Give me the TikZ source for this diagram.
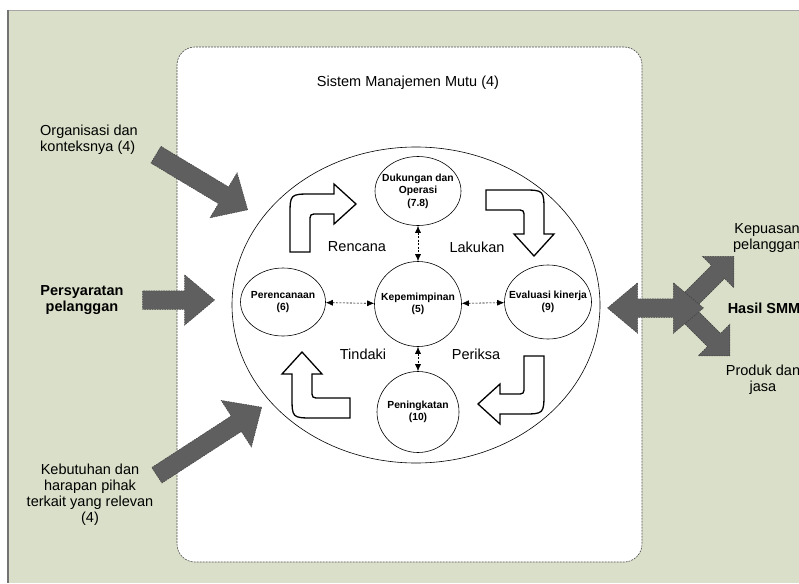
\documentclass[tikz,border=0pt]{standalone}
\usepackage{fontspec}
\setmainfont{Liberation Sans}
\usetikzlibrary{arrows.meta, positioning, shapes.geometric, shapes.arrows}

\definecolor{panelgreen}{HTML}{D9DFC8}
\definecolor{arrowgray}{HTML}{5F5F5F}

\begin{document}
\begin{tikzpicture}[x=1pt, y=-1pt,
    phase/.style={ellipse, draw, line width=0.6pt, fill=white, inner sep=0pt},
    phasetext/.style={align=center, inner sep=0pt, font=\fontsize{10.3}{12.5}\selectfont\bfseries},
    link/.style={{Latex[length=7pt,width=6pt]}-{Latex[length=7pt,width=6pt]}, dash pattern=on 2pt off 1.5pt, line width=0.6pt},
    big/.style={font=\fontsize{14.5}{16}\selectfont, align=center, inner sep=0pt},
    bigbold/.style={big, font=\fontsize{14.5}{16}\selectfont\bfseries},
    bigarrow/.style={single arrow, fill=arrowgray, draw=black!75, line width=0.5pt, dash pattern=on 1.5pt off 1pt, inner xsep=0pt, anchor=tip},
    pics/bendarrow/.style={code={
      \draw[fill=white, line width=1.3pt, line join=miter]
        (-10,48) -- (-10,12) .. controls (-10,-10) .. (12,-10) -- (34,-10) -- (34,-20) -- (56,0)
        -- (34,20) -- (34,10) -- (18,10) .. controls (10,10) .. (10,18) -- (10,48) -- cycle;
    }}
]
\clip (0,0) rectangle (799,583);
% background panel
\fill[white] (0,0) rectangle (799,583);
\fill[panelgreen] (8,10) rectangle (799,583);
\draw[black!35, line width=1.5pt] (8,10.5) -- (799,10.5);
\draw[black!55, line width=2pt] (8,10) -- (8,583);

\node[draw=black!70, fill=white, rounded corners=18pt, line width=0.6pt, dash pattern=on 2pt off 1pt,
      minimum width=465pt, minimum height=515pt] (box) at (409.5,304.5) {};
\node[big] (title) at (408,83) {Sistem Manajemen Mutu (4)};

% inputs
\node[big, align=left, anchor=west] (org) at (40,140) {Organisasi dan\\konteksnya (4)};
\node[bigbold] (req) at (82,300) {Persyaratan\\pelanggan};
\node[big] (need) at (90,495) {Kebutuhan dan\\harapan pihak\\terkait yang relevan\\(4)};
\node[bigarrow, minimum height=107pt, inner ysep=9.5pt, single arrow head extend=16.5pt,
      single arrow tip angle=86, rotate=-31] (orgarrow) at (248,210) {};
\node[bigarrow, minimum height=72pt, inner ysep=9pt, single arrow head extend=16pt,
      single arrow tip angle=80] (reqarrow) at (215,300) {};
\node[bigarrow, minimum height=125pt, inner ysep=9pt, single arrow head extend=18.5pt,
      single arrow tip angle=85, rotate=33] (needarrow) at (262,407) {};

% outputs
\node[big] (sat) at (767,238) {Kepuasan\\pelanggan};
\node[bigbold] (result) at (764,308) {Hasil SMM};
\node[big] (prod) at (763,380) {Produk dan\\jasa};
\node[bigarrow, minimum height=64pt, inner ysep=9pt, single arrow head extend=13pt,
      single arrow tip angle=90, rotate=45] (satarrow) at (734,256) {};
\node[bigarrow, minimum height=64pt, inner ysep=9pt, single arrow head extend=13pt,
      single arrow tip angle=90, rotate=-45] (prodarrow) at (730,356) {};
\node[bigarrow, double arrow, anchor=center, minimum height=96pt, inner ysep=9pt,
      double arrow head extend=16pt, double arrow tip angle=80] (resarrow) at (655.5,308) {};

% PDCA cycle
\node[ellipse, draw, line width=0.6pt, minimum width=368pt, minimum height=316pt] (cycle) at (416,305) {};
\pic at (300,204) {bendarrow};
\pic[rotate=-90] at (534,200) {bendarrow};
\pic[rotate=-180] at (534,404) {bendarrow};
\pic[rotate=-270] at (302,408) {bendarrow};

\node[phase, minimum width=87pt, minimum height=85pt] (lead) at (418,304) {};
\node[phase, minimum width=86pt, minimum height=69pt] (supp) at (418,191) {};
\node[phase, minimum width=85pt, minimum height=68pt] (plan) at (283,302) {};
\node[phase, minimum width=87pt, minimum height=74pt] (eval) at (548,302) {};
\node[phase, minimum width=82pt, minimum height=81pt] (impr) at (418,412) {};
\node[phasetext] (leadtext) at (lead) {Kepemimpinan\\(5)};
\node[phasetext] (supptext) at (supp) {Dukungan dan\\Operasi\\(7.8)};
\node[phasetext] (plantext) at (plan) {Perencanaan\\(6)};
\node[phasetext] (evaltext) at (eval) {Evaluasi kinerja\\(9)};
\node[phasetext] (imprtext) at (impr) {Peningkatan\\(10)};

\draw[link] (supp) -- (lead);
\draw[link] (plan) -- (lead);
\draw[link] (lead) -- (eval);
\draw[link] (lead) -- (impr);

\node[big] (rencana) at (357,247) {Rencana};
\node[big] (lakukan) at (477,247) {Lakukan};
\node[big] (tindaki) at (363,354) {Tindaki};
\node[big] (periksa) at (476,354) {Periksa};
\end{tikzpicture}
\end{document}
